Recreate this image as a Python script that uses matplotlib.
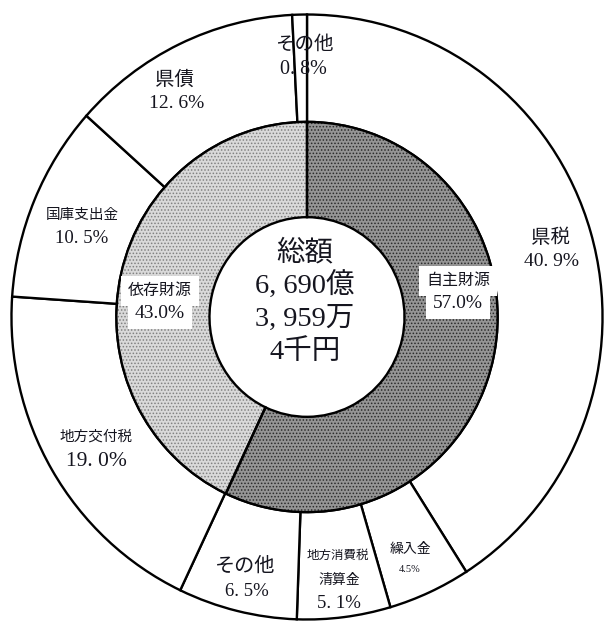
import matplotlib
matplotlib.use("Agg")
import matplotlib.pyplot as plt

# outer ring: revenue items, clockwise from top
outer_labels = ["県税", "繰入金", "地方消費税\n清算金", "その他", "地方交付税", "国庫支出金", "県債", "その他"]
outer_values = [40.9, 4.5, 5.1, 6.5, 19.0, 10.5, 12.6, 0.8]
outer_texts = ["40. 9%", "4.5%", "5. 1%", "6. 5%", "19. 0%", "10. 5%", "12. 6%", "0. 8%"]

# inner ring: own vs dependent revenue
inner_labels = ["自主財源", "依存財源"]
inner_values = [57.0, 43.0]
inner_texts = ["57.0%", "43.0%"]

center_lines = ["総額", "6, 690億", "3, 959万", "4千円"]

W, H = 604, 623
CX, CY = 307, 317          # pie centre, pixels from top-left
RX, RY = 297, 304          # outer radius in px (slightly oval in the scan)

fam = ["Liberation Serif", "Noto Sans CJK JP"]
ink = "#15151f"

fig = plt.figure(figsize=(W / 100, H / 100), dpi=100)
ax = fig.add_axes([(CX - RX) / W, (H - CY - RY) / H, 2 * RX / W, 2 * RY / H])

plt.rcParams["hatch.linewidth"] = 0.7

R_IN = 0.645
W_IN = 0.315

# outer ring
ax.pie(outer_values, radius=1.0, startangle=90, counterclock=False,
       wedgeprops=dict(width=1 - R_IN, facecolor="white", edgecolor="black", linewidth=1.7))

# inner ring: fill, dot texture, outline
ax.pie(inner_values, radius=R_IN, startangle=90, counterclock=False,
       colors=["#959595", "#d9d9d9"], wedgeprops=dict(width=W_IN, linewidth=0))
dots = ax.pie(inner_values, radius=R_IN, startangle=90, counterclock=False,
              wedgeprops=dict(width=W_IN, linewidth=0, facecolor="none"))[0]
dots[0].set_hatch(".....")
dots[0].set_edgecolor("#2a2a2a")
dots[1].set_hatch(".....")
dots[1].set_edgecolor("#808080")
ax.pie(inner_values, radius=R_IN, startangle=90, counterclock=False,
       wedgeprops=dict(width=W_IN, facecolor="none", edgecolor="black", linewidth=1.7))

ax.set_aspect("auto")
ax.set_xlim(-1.005, 1.005)
ax.set_ylim(-1.005, 1.005)
ax.axis("off")


def put(px, py, s, size, color=ink, **kw):
    # place text by pixel position in the picture
    fig.text(px / W, 1 - py / H, s, fontsize=size, family=fam, color=color,
             ha="center", va="center", **kw)


# outer labels (pixel positions)
put(304, 45, outer_labels[7], 14)
put(303, 69, outer_texts[7], 14.5)
put(175, 80, outer_labels[6], 14)
put(177, 104, outer_texts[6], 14)
put(82, 215, outer_labels[5], 10.5)
put(82, 239, outer_texts[5], 13.5)
put(550, 238, outer_labels[0], 14)
put(551, 262, outer_texts[0], 14)
put(96, 437, outer_labels[4], 10.5)
put(96, 462, outer_texts[4], 15.5)
put(245, 567, outer_labels[3], 14.5, style="italic")
put(247, 591, outer_texts[3], 13.5)
name1, name2 = outer_labels[2].split("\n")
put(338, 556, name1, 9)
put(339, 580, name2, 10)
put(339, 603, outer_texts[2], 13.5)
put(410, 550, outer_labels[1], 10)
put(410, 569, outer_texts[1], 7.5)

# inner labels: white boxes first (overlapping pads), then the text on top
box = dict(facecolor="white", edgecolor="none", pad=5)
for (x, y), name, pct in zip([(458, 281), (160, 291)], inner_labels, inner_texts):
    put(x, y + 22, pct, 14, color="none", bbox=box, zorder=4)
    put(x, y, name, 11.5, color="none", bbox=box, zorder=4)
    put(x, y, name, 11.5, zorder=5)
    put(x, y + 22, pct, 14, zorder=5)

# centre total
for i, line in enumerate(center_lines):
    put(305, 253 + 33 * i, line, 20.5)

fig.savefig("out.png", dpi=100, facecolor="white")
